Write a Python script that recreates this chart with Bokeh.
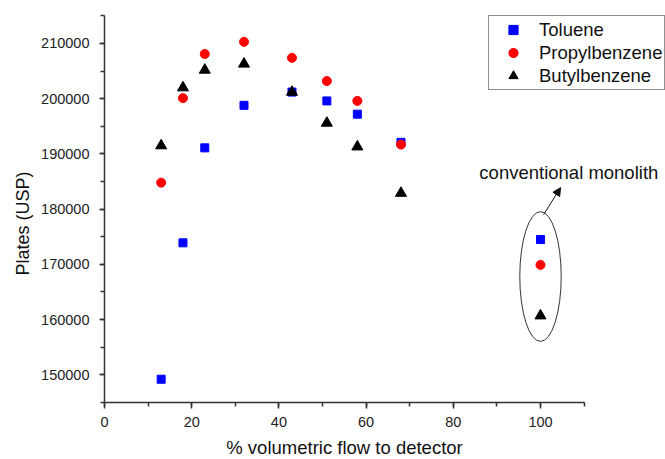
import math
from bokeh.plotting import figure
from bokeh.models import (ColumnDataSource, Legend, LegendItem, Label, Arrow, NormalHead,
                          SingleIntervalTicker, BasicTickFormatter, Range1d)
from bokeh.embed import file_html
from bokeh.resources import INLINE

flow = [13, 18, 23, 32, 43, 51, 58, 68, 100]
toluene = [149200, 173900, 191100, 198800, 201200, 199600, 197200, 192100, 174500]
propylbenzene = [184800, 200100, 208100, 210300, 207400, 203200, 199600, 191700, 169900]
butylbenzene = [191500, 202000, 205200, 206300, 201200, 195600, 191300, 182900, 160700]

series_names = ["Toluene", "Propylbenzene", "Butylbenzene"]
x_label = "% volumetric flow to detector"
y_label = "Plates (USP)"
note = "conventional monolith"

FONT = "Liberation Sans"

# frame covers the whole canvas; axes are placed at fixed data locations
p = figure(width=665, height=459, output_backend="svg", toolbar_location=None,
           x_range=Range1d(-23.85, 128.67), y_range=Range1d(134662, 217787),
           min_border=0)
p.outline_line_color = None
p.xgrid.visible = False
p.ygrid.visible = False
p.background_fill_color = "white"
p.border_fill_color = "white"

src = ColumnDataSource(dict(x=flow, t=toluene, pr=propylbenzene, b=butylbenzene))
r1 = p.scatter("x", "t", source=src, marker="square", size=8, color="#0000FF")
r2 = p.scatter("x", "pr", source=src, marker="circle", size=9, color="#FF0000")
r3 = p.scatter("x", "b", source=src, marker="triangle", size=11, color="#000000")

# ellipse around conventional monolith points
p.ellipse(x=[100], y=[167800], width=[9.5], height=[23500],
          fill_color=None, line_color="#333333", line_width=1)

p.add_layout(Arrow(end=NormalHead(size=8, fill_color="#111111", line_color="#111111"),
                   x_start=100.7, y_start=179000, x_end=104.6, y_end=183900,
                   line_color="#111111", line_width=1))

p.add_layout(Label(x=106.5, y=186635, text=note, text_align="center", text_baseline="middle",
                   text_font=FONT, text_font_size="18.5px", text_color="#111111"))

p.add_layout(Label(x=-18.8, y=177400, text=y_label, angle=math.pi / 2,
                   text_align="center", text_baseline="middle",
                   text_font=FONT, text_font_size="18px", text_color="#111111"))

p.add_layout(Label(x=55.05, y=136835, text=x_label,
                   text_align="center", text_baseline="middle",
                   text_font=FONT, text_font_size="18.5px", text_color="#111111"))

for ax in (p.xaxis[0], p.yaxis[0]):
    ax.axis_line_color = "#333333"
    ax.axis_line_width = 1.5
    ax.major_tick_line_color = "#333333"
    ax.minor_tick_line_color = "#333333"
    ax.major_tick_line_width = 1.5
    ax.minor_tick_line_width = 1.5
    ax.major_tick_in = 0
    ax.minor_tick_in = 0
    ax.major_label_text_font = FONT
    ax.major_label_text_font_size = "14.5px"
    ax.major_label_text_color = "#222222"

p.xaxis.fixed_location = 145000
p.xaxis.bounds = (0, 110.001)
p.xaxis.ticker = SingleIntervalTicker(interval=20, num_minor_ticks=2)
p.xaxis.major_tick_out = 6
p.xaxis.minor_tick_out = 4
p.xaxis.major_label_standoff = 9

p.yaxis.fixed_location = 0
p.yaxis.bounds = (145000, 215001)
p.yaxis.ticker = SingleIntervalTicker(interval=10000, num_minor_ticks=2)
p.yaxis.formatter = BasicTickFormatter(use_scientific=False)
p.yaxis.major_tick_out = 5
p.yaxis.minor_tick_out = 4
p.yaxis.major_label_standoff = 10

legend = Legend(items=[LegendItem(label=series_names[0], renderers=[r1]),
                       LegendItem(label=series_names[1], renderers=[r2]),
                       LegendItem(label=series_names[2], renderers=[r3])],
                location=(488, 369), padding=2, spacing=0, margin=0,
                glyph_width=44, glyph_height=23, label_height=23, label_standoff=4,
                label_text_font=FONT, label_text_font_size="18.5px", label_text_color="#111111",
                border_line_color="#222222", border_line_width=1,
                background_fill_alpha=1.0)
p.add_layout(legend, "center")

open("out.html", "w").write(file_html(p, INLINE))
